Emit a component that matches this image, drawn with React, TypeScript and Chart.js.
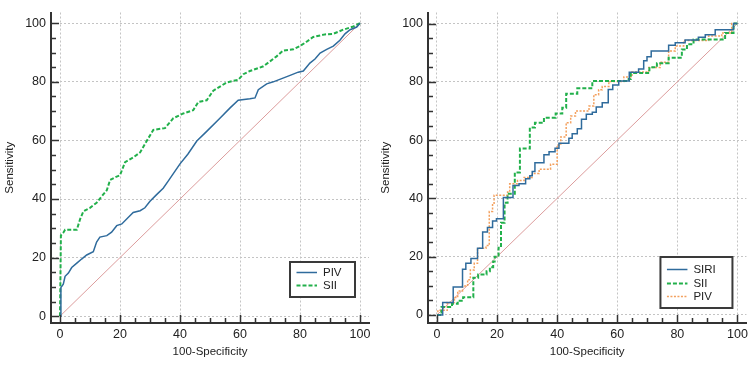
import React, { useEffect, useRef } from "react";
import { Chart, registerables } from "chart.js";

Chart.register(...registerables);

const FONT = "'Liberation Sans', Arial, sans-serif";

// Axis tick labels (both charts, both axes)
const TICK_VALUES = [0, 20, 40, 60, 80, 100];
const X_TITLE = "100-Specificity";
const Y_TITLE = "Sensitivity";

// ---------- Left chart: PIV vs SII ----------
const leftPIV_x = [0, 0.3, 1.1, 1.7, 2.8, 3.9, 5.6, 7.2, 8.9, 11.1, 12.2, 13.3, 15.6, 17.2, 18.9, 20.6, 23.3, 24.4, 26.7, 28.3, 30, 32.2, 34.4, 36, 38, 40, 42.6, 45.6, 48.9, 53.3, 56.7, 59.4, 63.3, 65, 66.1, 68.9, 71.1, 73.9, 76.7, 79.4, 81.1, 83.3, 85, 86.7, 88.9, 91.1, 93.3, 95, 96.7, 98.9, 100];
const leftPIV_y = [0, 9.8, 10.9, 13.6, 14.7, 16.6, 18.1, 19.5, 20.9, 22, 25.3, 27, 27.5, 28.7, 30.9, 31.5, 34.3, 35.4, 36, 37, 39.2, 41.5, 43.7, 46, 49, 52, 55.3, 59.8, 63.1, 67.6, 71.1, 73.7, 74.2, 74.5, 77.3, 79.3, 80, 81.1, 82.2, 83.3, 83.7, 86.4, 87.8, 89.8, 91.1, 92.2, 94.2, 96.4, 97.8, 98.7, 100];

const leftSII_x = [0, 0.3, 1.1, 1.7, 5.6, 6.7, 7.8, 10, 12.2, 13.9, 15.6, 16.7, 18.5, 20, 21.7, 24.4, 26.7, 28.9, 31.1, 35, 37.8, 41.1, 44.4, 46.1, 48.9, 51.1, 55.6, 59.4, 61.1, 63.3, 67.8, 70, 72.2, 74.4, 77.8, 80, 82.2, 84.4, 88.3, 91.1, 94.4, 97.8, 100];
const leftSII_y = [0, 27.6, 28.5, 29.5, 29.5, 33.1, 35.8, 37, 38.7, 40.9, 43, 46.5, 47.5, 48.1, 52.6, 54.2, 55.9, 59.8, 63.6, 64.2, 67.6, 69.2, 70.3, 73.1, 73.7, 77, 79.8, 80.7, 82.6, 83.7, 85.3, 87, 88.7, 90.7, 91.1, 92.2, 93.7, 95.3, 96.2, 96.4, 97.8, 98.9, 100];

// ---------- Right chart: SIRI, SII, PIV (step curves) ----------
const rightSIRI_x = [0, 1.9, 5.4, 8.5, 9.6, 11.3, 13.5, 15.2, 16.8, 18.5, 19.8, 22.1, 25.3, 27.3, 29.5, 30.9, 31.7, 32.6, 35.6, 37.3, 39.3, 40.6, 43.9, 45, 46.7, 48.1, 49.7, 51.7, 53, 55, 57, 58.5, 60.5, 64, 67.1, 68.8, 69.9, 71.3, 77.1, 79.3, 82.6, 87, 89.3, 92.6, 98.7, 100];
const rightSIRI_y = [0, 4.3, 9.6, 15.7, 17.7, 19.4, 22.9, 28.5, 30, 32.2, 33, 40.3, 44.4, 45, 46.7, 47.8, 49.2, 52.2, 55, 56, 57.2, 58.9, 60.6, 62.2, 63.9, 67.2, 68.9, 69.6, 71.4, 72.8, 77.4, 78.9, 80.3, 83.3, 84.4, 87.2, 88.6, 90.6, 92.6, 93.4, 94.4, 95.3, 96.2, 97.9, 100, 100];

const rightSII_x = [0, 1.5, 5, 6.9, 8.7, 12.1, 13.7, 16.5, 17.6, 18.7, 19.2, 20.5, 21.3, 22.5, 23.5, 25.9, 27.6, 30.9, 32.6, 35.6, 39.5, 41.7, 43, 46.7, 51.7, 63.8, 64.5, 70.7, 73.2, 77.1, 81.5, 83.2, 85.4, 95.9, 98.7, 100];
const rightSII_y = [0, 2.7, 3.8, 4.9, 6.1, 12.8, 13.9, 15, 16.4, 18.3, 20, 23.1, 31.6, 38.5, 41.6, 48.9, 57.1, 64.3, 66, 67.7, 69.1, 71.1, 75.9, 77.8, 80.3, 81, 83, 85, 86.4, 88.3, 91.1, 92.9, 94.5, 96.8, 100, 100];

const rightPIV_x = [0, 0.3, 3.4, 5.8, 6.9, 8.5, 10.2, 11.1, 12.4, 13.5, 16.3, 17.4, 18.5, 19, 23.5, 24.2, 26.8, 29, 31.7, 34, 37.8, 40, 41.2, 43, 44.5, 46.1, 50.6, 52.2, 53.8, 55, 57.2, 62.2, 64.9, 70.5, 74.3, 77.1, 79.3, 82.1, 90.4, 94.8, 98.1, 100];
const rightPIV_y = [0, 1.6, 4.3, 6, 8.2, 9.9, 12.1, 15.4, 17.7, 22.9, 23.8, 35.5, 38.3, 41.1, 42.2, 45, 46.1, 47.2, 48.5, 50, 51.7, 58.3, 61.1, 66, 68.3, 70, 71.7, 75.6, 77.3, 78.4, 80.1, 81.7, 83.4, 84.9, 86.7, 90.6, 92.3, 94.2, 95.7, 96.8, 100, 100];

// Reference (chance) diagonal
const diag_x = [0, 100];
const diag_y = [0, 100];

const BLUE = "#2f6b9c";
const GREEN = "#22b04b";
const ORANGE = "#f3a05e";
const DIAG = "#dc9c9c";

const pts = (xs: number[], ys: number[]) => xs.map((x, i) => ({ x, y: ys[i] }));

const axisTicks = {
  id: "axisTicks",
  afterDraw(chart: any) {
    const { ctx, chartArea } = chart;
    const xs = chart.scales.x;
    const ys = chart.scales.y;
    ctx.save();
    ctx.strokeStyle = "#333";
    ctx.lineWidth = 1.5;
    ctx.beginPath();
    for (let v = 0; v <= 100; v += 5) {
      const major = v % 20 === 0;
      const len = major ? 8 : 5;
      const px = Math.round(xs.getPixelForValue(v)) + 0.5;
      ctx.moveTo(px, chartArea.bottom);
      ctx.lineTo(px, chartArea.bottom - len);
      const py = Math.round(ys.getPixelForValue(v)) + 0.5;
      ctx.moveTo(chartArea.left, py);
      ctx.lineTo(chartArea.left + len, py);
    }
    ctx.stroke();
    ctx.restore();
  },
};

const boxLegend = {
  id: "boxLegend",
  afterDraw(chart: any, _args: any, opts: any) {
    const { ctx, chartArea } = chart;
    const items = chart.data.datasets.filter((d: any) => d.label);
    const w = opts.width;
    const h = opts.height;
    const x0 = chartArea.right - opts.right - w;
    const y0 = chartArea.bottom - opts.bottom - h;
    ctx.save();
    ctx.fillStyle = "#ffffff";
    ctx.fillRect(x0, y0, w, h);
    ctx.lineWidth = 2;
    ctx.strokeStyle = "#3a3a3a";
    ctx.strokeRect(x0, y0, w, h);
    items.forEach((d: any, i: number) => {
      const yy = Math.round(y0 + opts.firstRow + i * opts.rowGap) + 0.5;
      ctx.beginPath();
      ctx.setLineDash(d.borderDash || []);
      ctx.strokeStyle = d.borderColor;
      ctx.lineWidth = d.borderWidth;
      ctx.moveTo(x0 + 6.5, yy);
      ctx.lineTo(x0 + 27, yy);
      ctx.stroke();
      ctx.setLineDash([]);
      ctx.fillStyle = "#222";
      ctx.font = `11.5px ${FONT}`;
      ctx.textBaseline = "middle";
      ctx.textAlign = "left";
      ctx.fillText(d.label, x0 + 33, yy);
    });
    ctx.restore();
  },
};

type Cfg = {
  datasets: any[];
  xMin: number; xMax: number; yMin: number; yMax: number;
  yWidth: number; padTop: number; padRight: number;
  legend: any;
};

function makeConfig(c: Cfg): any {
  const tickFont = { family: FONT, size: 12.5 };
  const titleFont = { family: FONT, size: 11.5 };
  const grid = { color: "#c4c4c4", lineWidth: 1, drawTicks: false };
  const border = { display: true, color: "#333", width: 2, dash: [2, 2] };
  return {
    type: "line",
    data: { datasets: c.datasets },
    plugins: [axisTicks, boxLegend],
    options: {
      responsive: false,
      maintainAspectRatio: false,
      animation: false,
      events: [],
      layout: { padding: { top: c.padTop, right: c.padRight, left: 0, bottom: 0 } },
      elements: { point: { radius: 0 }, line: { tension: 0 } },
      plugins: {
        legend: { display: false },
        tooltip: { enabled: false },
        boxLegend: c.legend,
      },
      scales: {
        x: {
          type: "linear",
          min: c.xMin,
          max: c.xMax,
          afterBuildTicks: (s: any) => { s.ticks = TICK_VALUES.map((v) => ({ value: v })); },
          afterFit: (s: any) => { s.height = 42; },
          grid,
          border,
          ticks: { padding: 4, color: "#222", font: tickFont, maxRotation: 0, autoSkip: false },
          title: { display: true, text: X_TITLE, color: "#222", font: titleFont, padding: { top: 0, bottom: 6 } },
        },
        y: {
          type: "linear",
          min: c.yMin,
          max: c.yMax,
          afterBuildTicks: (s: any) => { s.ticks = TICK_VALUES.map((v) => ({ value: v })); },
          afterFit: (s: any) => { s.width = c.yWidth; },
          grid,
          border,
          ticks: { padding: 5, color: "#222", font: tickFont, autoSkip: false },
          title: { display: true, text: Y_TITLE, color: "#222", font: titleFont, padding: { top: 3, bottom: 0 } },
        },
      },
    },
  };
}

function ChartBox({ cfg, left }: { cfg: Cfg; left: number }) {
  const ref = useRef<HTMLCanvasElement | null>(null);
  useEffect(() => {
    if (!ref.current) return;
    const chart = new Chart(ref.current, makeConfig(cfg));
    return () => chart.destroy();
  }, []);
  return (
    <div style={{ position: "absolute", left, top: 0, width: 376, height: 365 }}>
      <canvas ref={ref} width={376} height={365} style={{ display: "block", width: 376, height: 365 }} />
    </div>
  );
}

const leftCfg: Cfg = {
  datasets: [
    { label: "PIV", data: pts(leftPIV_x, leftPIV_y), borderColor: BLUE, borderWidth: 1.5, fill: false },
    { label: "SII", data: pts(leftSII_x, leftSII_y), borderColor: GREEN, borderWidth: 2, borderDash: [4, 2], fill: false },
    { label: "", data: pts(diag_x, diag_y), borderColor: DIAG, borderWidth: 1, fill: false },
  ],
  xMin: -3, xMax: 103, yMin: -2.33, yMax: 103.67,
  yWidth: 51, padTop: 5, padRight: 7,
  legend: { right: 14, bottom: 26, width: 65, height: 35, firstRow: 10, rowGap: 13 },
};

const rightCfg: Cfg = {
  datasets: [
    { label: "SIRI", data: pts(rightSIRI_x, rightSIRI_y), borderColor: BLUE, borderWidth: 1.5, stepped: true, fill: false },
    { label: "SII", data: pts(rightSII_x, rightSII_y), borderColor: GREEN, borderWidth: 2, borderDash: [4, 2], stepped: true, fill: false },
    { label: "PIV", data: pts(rightPIV_x, rightPIV_y), borderColor: ORANGE, borderWidth: 1.5, borderDash: [2, 1.5], stepped: true, fill: false },
    { label: "", data: pts(diag_x, diag_y), borderColor: DIAG, borderWidth: 1, fill: false },
  ],
  xMin: -2.99, xMax: 103, yMin: -2.77, yMax: 103.8,
  yWidth: 52, padTop: 4, padRight: 5,
  legend: { right: 14, bottom: 15, width: 72, height: 51, firstRow: 12, rowGap: 13.6 },
};

export default function App() {
  return (
    <div style={{ position: "absolute", left: 0, top: 0, width: 752, height: 365, background: "#fff" }}>
      <ChartBox cfg={leftCfg} left={0} />
      <ChartBox cfg={rightCfg} left={376} />
    </div>
  );
}
